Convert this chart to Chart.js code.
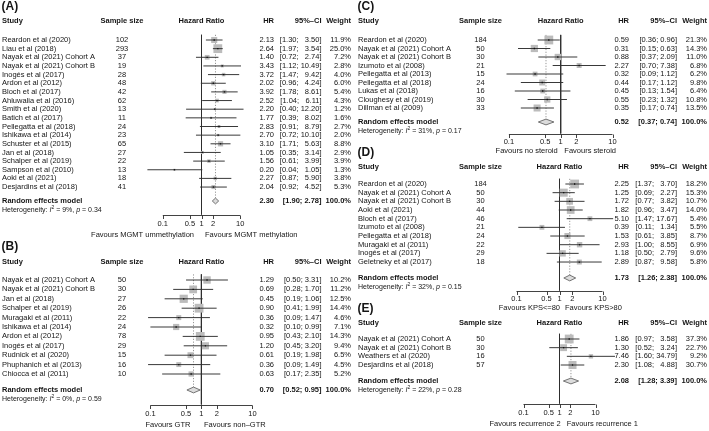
<!DOCTYPE html>
<html><head><meta charset="utf-8">
<script src="https://cdn.jsdelivr.net/npm/chart.js@4.4.0/dist/chart.umd.min.js"></script>
<style>
html,body{margin:0;padding:0;background:#fff;}
#wrap{position:relative;width:709px;height:431px;overflow:hidden;background:#fff;}
canvas{position:absolute;left:0;top:0;}
</style></head><body><div id="wrap">
<canvas id="cA" width="709" height="431"></canvas>
<canvas id="cB" width="709" height="431"></canvas>
<canvas id="cC" width="709" height="431"></canvas>
<canvas id="cD" width="709" height="431"></canvas>
<canvas id="cE" width="709" height="431"></canvas>
</div>
<script>
// ---------- DATA ----------
const tickValues = [0.1, 0.5, 1, 2, 10];
const tickLabels = ['0.1', '0.5', '1', '2', '10'];

// (A)
const studiesA = ['Reardon et al (2020)','Liau et al (2018)','Nayak et al (2021) Cohort A','Nayak et al (2021) Cohort B','Inogés et al (2017)','Ardon et al (2012)','Bloch et al (2017)','Ahluwalia et al (2016)','Smith et al (2020)','Batich et al (2017)','Pellegatta et al (2018)','Ishikawa et al (2014)','Schuster et al (2015)','Jan et al (2018)','Schalper et al (2019)','Sampson et al (2010)','Aoki et al (2021)','Desjardins et al (2018)'];
const sizesA = [102,293,37,19,28,48,42,62,13,11,24,23,65,27,22,13,18,41];
const hrA = [2.13,2.64,1.40,3.43,3.72,2.02,3.92,2.52,2.20,1.77,2.83,2.70,3.10,1.05,1.56,0.20,2.27,2.04];
const lowerA = [1.30,1.97,0.72,1.12,1.47,0.96,1.78,1.04,0.40,0.39,0.91,0.72,1.71,0.35,0.61,0.04,0.87,0.92];
const upperA = [3.50,3.54,2.74,10.49,9.42,4.24,8.61,6.11,12.20,8.02,8.79,10.10,5.63,3.14,3.99,1.05,5.90,4.52];
const weightsA = [11.9,25.0,7.2,2.8,4.0,6.0,5.4,4.3,1.2,1.6,2.7,2.0,8.8,2.9,3.9,1.3,3.8,5.3];
const pooledA = [2.30, 1.90, 2.78];
const hetA = ['9%', '0.34'];
const favoursA = ['Favours MGMT ummethylation', 'Favours MGMT methylation'];

// (B)
const studiesB = ['Nayak et al (2021) Cohort A','Nayak et al (2021) Cohort B','Jan et al (2018)','Schalper et al (2019)','Muragaki et al (2011)','Ishikawa et al (2014)','Ardon et al (2012)','Inogés et al (2017)','Rudnick et al (2020)','Phuphanich et al (2013)','Chiocca et al (2011)'];
const sizesB = [50,30,27,26,22,24,78,29,15,16,10];
const hrB = [1.29,0.69,0.45,0.90,0.36,0.32,0.95,1.20,0.61,0.36,0.63];
const lowerB = [0.50,0.28,0.19,0.41,0.09,0.10,0.43,0.45,0.19,0.09,0.17];
const upperB = [3.31,1.70,1.06,1.99,1.47,0.99,2.10,3.20,1.98,1.49,2.35];
const weightsB = [10.2,11.2,12.5,14.4,4.6,7.1,14.3,9.4,6.5,4.5,5.2];
const pooledB = [0.70, 0.52, 0.95];
const hetB = ['0%', '0.59'];
const favoursB = ['Favours GTR', 'Favours non\u2013GTR'];

// (C)
const studiesC = ['Reardon et al (2020)','Nayak et al (2021) Cohort A','Nayak et al (2021) Cohort B','Izumoto et al (2008)','Pellegatta et al (2013)','Pellegatta et al (2018)','Lukas et al (2018)','Cloughesy et al (2019)','Dillman et al (2009)'];
const sizesC = [184,50,30,21,15,24,16,30,33];
const hrC = [0.59,0.31,0.88,2.27,0.32,0.44,0.45,0.55,0.35];
const lowerC = [0.36,0.15,0.37,0.70,0.09,0.17,0.13,0.23,0.17];
const upperC = [0.96,0.63,2.09,7.38,1.12,1.12,1.54,1.32,0.74];
const weightsC = [21.3,14.3,11.0,6.8,6.2,9.8,6.4,10.8,13.5];
const pooledC = [0.52, 0.37, 0.74];
const hetC = ['31%', '0.17'];
const favoursC = ['Favours no steroid', 'Favours steroid'];

// (D)
const studiesD = ['Reardon et al (2020)','Nayak et al (2021) Cohort A','Nayak et al (2021) Cohort B','Aoki et al (2021)','Bloch et al (2017)','Izumoto et al (2008)','Pellegatta et al (2018)','Muragaki et al (2011)','Inogés et al (2017)','Geletneky et al (2017)'];
const sizesD = [184,50,30,44,46,21,24,22,29,18];
const hrD = [2.25,1.25,1.72,1.82,5.10,0.39,1.53,2.93,1.18,2.89];
const lowerD = [1.37,0.69,0.77,0.96,1.47,0.11,0.61,1.00,0.50,0.87];
const upperD = [3.70,2.27,3.82,3.47,17.67,1.34,3.85,8.55,2.79,9.58];
const weightsD = [18.2,15.3,10.7,14.0,5.4,5.5,8.7,6.9,9.6,5.8];
const pooledD = [1.73, 1.26, 2.38];
const hetD = ['32%', '0.15'];
const favoursD = ['Favours KPS<=80', 'Favours KPS>80'];

// (E)
const studiesE = ['Nayak et al (2021) Cohort A','Nayak et al (2021) Cohort B','Weathers et al (2020)','Desjardins et al (2018)'];
const sizesE = [50,30,16,57];
const hrE = [1.86,1.30,7.46,2.30];
const lowerE = [0.97,0.52,1.60,1.08];
const upperE = [3.58,3.24,34.79,4.88];
const weightsE = [37.3,22.7,9.2,30.7];
const pooledE = [2.08, 1.28, 3.39];
const hetE = ['22%', '0.28'];
const favoursE = ['Favours recurrence 2', 'Favours recurrence 1'];

// ---------- LAYOUT ----------
const W = 709, H = 431;
const FONT = '"Liberation Sans", Arial, Helvetica, sans-serif';
const TXT = '#151515';
const colsL = {study: 2, size: 122, hr: 274, ci: 321.5, wt: 351};
const colsR = {study: 358, size: 480.5, hr: 629, ci: 677, wt: 707};

function fmtCI(lo, hi, pad) {
  return '[' + lo.toFixed(2) + '; ' + (pad && hi < 10 ? '\u2007' : '') + hi.toFixed(2) + ']';
}

function drawHet(ctx, x, y, i2, p) {
  const parts = [['Heterogeneity: ', '7px ' + FONT, 0], ['I', 'italic 7px ' + FONT, 0], ['2', '5px ' + FONT, -2.6],
                 [' = ' + i2 + ', ', '7px ' + FONT, 0], ['p', 'italic 7px ' + FONT, 0], [' = ' + p, '7px ' + FONT, 0]];
  ctx.textAlign = 'left';
  for (const [t, f, dy] of parts) { ctx.font = f; ctx.fillText(t, x, y + dy); x += ctx.measureText(t).width; }
}

function makePanel(L, studies, sizes, hr, lower, upper, weights, pooled, het, favours) {
  const n = studies.length, s = L.s;
  const yTop = -0.6;
  const yRE = (L.reY - L.row0) / s, yHet = (L.hetY - L.row0) / s, yAxis = (L.axisY - L.row0) / s;
  const xmin = Math.min(0.1, ...lower), xmax = Math.max(10, ...upper);
  const padding = {
    left: L.x1 - Math.log10(1 / xmin) * L.dec,
    right: W - (L.x1 + Math.log10(xmax) * L.dec),
    top: L.row0 + yTop * s,
    bottom: H - L.axisY
  };
  const wmax = Math.max(...weights);
  const pad = upper.some(v => v >= 10);
  const ciData = [];
  hr.forEach((v, i) => { ciData.push({x: lower[i], y: i}, {x: upper[i], y: i}, {x: null, y: null}); });
  const pts = hr.map((v, i) => ({x: v, y: i}));
  const dh = 2.9 / s;

  const textPlugin = {
    id: 'panelText',
    afterDraw(chart) {
      const ctx = chart.ctx, xs = chart.scales.x, ys = chart.scales.y, c = L.cols;
      const x1 = xs.getPixelForValue(1);
      ctx.save();
      ctx.textBaseline = 'middle';
      ctx.fillStyle = TXT;
      // axis
      const ay = Math.round(chart.chartArea.bottom) + 0.5;
      ctx.strokeStyle = '#2e2e2e'; ctx.lineWidth = 0.9;
      ctx.beginPath();
      ctx.moveTo(xs.getPixelForValue(tickValues[0]), ay);
      ctx.lineTo(xs.getPixelForValue(tickValues[tickValues.length - 1]), ay);
      tickValues.forEach(v => { const px = Math.round(xs.getPixelForValue(v)) + 0.5; ctx.moveTo(px, ay); ctx.lineTo(px, ay + 3.5); });
      ctx.stroke();
      ctx.font = '7.5px ' + FONT; ctx.textAlign = 'center';
      tickValues.forEach((v, k) => ctx.fillText(tickLabels[k], xs.getPixelForValue(v), ay + L.tickDy));
      ctx.textAlign = 'right'; ctx.fillText(favours[0], x1 + L.fav[0], ay + L.favDy);
      ctx.textAlign = 'left'; ctx.fillText(favours[1], x1 + L.fav[1], ay + L.favDy);
      // panel tag
      ctx.font = 'bold 12px ' + FONT; ctx.textAlign = 'left';
      ctx.fillText(L.tag, c.study - 0.5, L.tagY);
      // headers
      ctx.font = 'bold 7.5px ' + FONT;
      const hy = L.headerY;
      ctx.textAlign = 'left'; ctx.fillText('Study', c.study, hy);
      ctx.textAlign = 'center'; ctx.fillText('Sample size', c.size, hy); ctx.fillText('Hazard Ratio', x1, hy);
      ctx.textAlign = 'right'; ctx.fillText('HR', c.hr, hy); ctx.fillText('95%\u2013CI', c.ci, hy); ctx.fillText('Weight', c.wt, hy);
      // rows
      ctx.font = '7.5px ' + FONT;
      studies.forEach((st, i) => {
        const y = ys.getPixelForValue(i);
        ctx.textAlign = 'left'; ctx.fillText(st, c.study, y);
        ctx.textAlign = 'center'; ctx.fillText(String(sizes[i]), c.size, y);
        ctx.textAlign = 'right';
        ctx.fillText(hr[i].toFixed(2), c.hr, y);
        ctx.fillText(fmtCI(lower[i], upper[i], pad), c.ci, y);
        ctx.fillText(weights[i].toFixed(1) + '%', c.wt, y);
      });
      // pooled row
      const ry = ys.getPixelForValue(yRE);
      ctx.font = 'bold 7.5px ' + FONT;
      ctx.textAlign = 'left'; ctx.fillText('Random effects model', c.study, ry);
      ctx.textAlign = 'right';
      ctx.fillText(pooled[0].toFixed(2), c.hr, ry);
      ctx.fillText(fmtCI(pooled[1], pooled[2], false), c.ci, ry);
      ctx.fillText('100.0%', c.wt, ry);
      drawHet(ctx, c.study, ys.getPixelForValue(yHet), het[0], het[1]);
      ctx.restore();
    }
  };

  return new Chart(document.getElementById(L.canvas), {
    type: 'scatter',
    data: {
      datasets: [
        {type: 'line', data: [{x: 1, y: yTop}, {x: 1, y: yAxis}], borderColor: '#2e2e2e', borderWidth: 0.9, pointRadius: 0, order: 10, clip: false},
        {type: 'line', data: [{x: pooled[0], y: yTop}, {x: pooled[0], y: yRE - dh}], borderColor: '#8a8a8a', borderWidth: 0.9, borderDash: [1.2, 1.6], pointRadius: 0, order: 9, clip: false},
        {type: 'scatter', data: pts, pointStyle: 'rect', pointRadius: weights.map(w => 8.8 * Math.sqrt(w / wmax) / Math.SQRT2), backgroundColor: '#bcbcbc', borderWidth: 0, order: 8, clip: false},
        {type: 'line', data: ciData, borderColor: '#2e2e2e', borderWidth: 0.95, pointRadius: 0, spanGaps: false, order: 7, clip: false},
        {type: 'scatter', data: pts, pointStyle: 'rect', pointRadius: 0.9, backgroundColor: '#111', borderWidth: 0, order: 6, clip: false},
        {type: 'line', data: [{x: pooled[1], y: yRE}, {x: pooled[0], y: yRE - dh}, {x: pooled[2], y: yRE}, {x: pooled[0], y: yRE + dh}, {x: pooled[1], y: yRE}],
         borderColor: '#666', borderWidth: 0.9, backgroundColor: '#dcdcdc', fill: 'shape', pointRadius: 0, order: 5, clip: false}
      ]
    },
    options: {
      responsive: false, animation: false, events: [], devicePixelRatio: 1,
      layout: {padding: padding, autoPadding: false},
      plugins: {legend: {display: false}, tooltip: {enabled: false}},
      scales: {
        x: {type: 'logarithmic', min: xmin, max: xmax, bounds: 'data', display: false},
        y: {type: 'linear', min: yTop, max: yAxis, reverse: true, display: false}
      }
    },
    plugins: [textPlugin]
  });
}

makePanel({canvas: 'cA', tag: '(A)', tagY: 7, headerY: 21, row0: 40, s: 8.65, reY: 201, hetY: 210, axisY: 214.5, tickDy: 8, favDy: 19.5,
           x1: 201.5, dec: 38.7, cols: colsL, fav: [-7.5, 3.5]},
  studiesA, sizesA, hrA, lowerA, upperA, weightsA, pooledA, hetA, favoursA);
makePanel({canvas: 'cB', tag: '(B)', tagY: 247, headerY: 262, row0: 280, s: 9.4, reY: 390, hetY: 399, axisY: 404.5, tickDy: 8, favDy: 19.5,
           x1: 201.4, dec: 51, cols: colsL, fav: [-11, 2.6]},
  studiesB, sizesB, hrB, lowerB, upperB, weightsB, pooledB, hetB, favoursB);
makePanel({canvas: 'cC', tag: '(C)', tagY: 7, headerY: 21, row0: 40, s: 8.5, reY: 122, hetY: 131, axisY: 133.5, tickDy: 7.5, favDy: 16.5,
           x1: 560.7, dec: 51.8, cols: colsR, fav: [-3, 3.6]},
  studiesC, sizesC, hrC, lowerC, upperC, weightsC, pooledC, hetC, favoursC);
makePanel({canvas: 'cD', tag: '(D)', tagY: 153, headerY: 167, row0: 184, s: 8.67, reY: 278, hetY: 287.5, axisY: 290.5, tickDy: 7.5, favDy: 16.5,
           x1: 559.5, dec: 43, cols: colsR, fav: [0.5, 5.5]},
  studiesD, sizesD, hrD, lowerD, upperD, weightsD, pooledD, hetD, favoursD);
makePanel({canvas: 'cE', tag: '(E)', tagY: 309, headerY: 323, row0: 339, s: 8.67, reY: 381, hetY: 390, axisY: 403.5, tickDy: 8, favDy: 19.5,
           x1: 559.5, dec: 36, cols: colsR, fav: [1.2, 7.2]},
  studiesE, sizesE, hrE, lowerE, upperE, weightsE, pooledE, hetE, favoursE);
</script>
</body></html>
